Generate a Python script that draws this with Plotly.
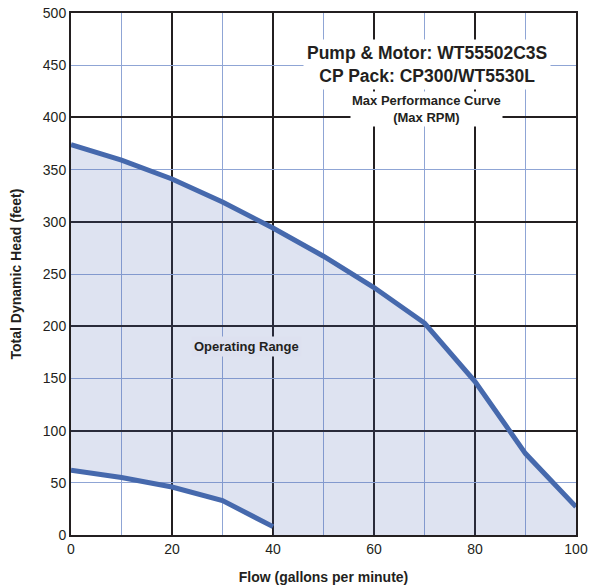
import plotly.graph_objects as go

# Max performance curve (max RPM)
flow_max = [0, 10, 20, 30, 40, 50, 60, 70, 80, 90, 100]
head_max = [374, 359, 341, 319, 294, 267, 237, 203, 147, 78, 27]

# lower limit of operating range
flow_min = [0, 10, 20, 30, 40]
head_min = [62, 55, 46, 33, 8]

# bottom of the shaded region: lower limit, then the x axis out to 100 gpm
base_flow = flow_min + [40, 100]
base_head = head_min + [0, 0]

LINE = '#4669ad'
TEXT = '#231f20'
FONT = 'Liberation Sans, Arial, sans-serif'

fig = go.Figure()

fig.add_trace(go.Scatter(x=base_flow, y=base_head, mode='lines',
                         line=dict(width=0), hoverinfo='skip', showlegend=False))
fig.add_trace(go.Scatter(x=flow_max, y=head_max, mode='lines',
                         fill='tonexty', fillcolor='rgba(70,100,180,0.18)',
                         line=dict(color=LINE, width=5), showlegend=False))
fig.add_trace(go.Scatter(x=flow_min, y=head_min, mode='lines', yaxis='y2',
                         line=dict(color=LINE, width=5), showlegend=False))

fig.add_annotation(x=70.4, y=451, text='<b>Pump & Motor: WT55502C3S<br>CP Pack: CP300/WT5530L</b>',
                   showarrow=False, bgcolor='white', borderpad=3,
                   font=dict(family=FONT, size=17.5, color=TEXT))
fig.add_annotation(x=70.4, y=408, text='<b>Max Performance Curve<br>(Max RPM)</b>',
                   showarrow=False, bgcolor='white', borderpad=1,
                   font=dict(family=FONT, size=13, color=TEXT))
fig.add_annotation(x=34.7, y=181, text='<b>Operating Range</b>',
                   showarrow=False, bgcolor='#dde1f0', borderpad=2,
                   font=dict(family=FONT, size=13, color=TEXT))

fig.update_layout(
    width=589, height=588,
    margin=dict(l=71, r=13, t=13, b=53),
    plot_bgcolor='white', paper_bgcolor='white',
    font=dict(family=FONT, color=TEXT),
    xaxis=dict(range=[0, 100], dtick=20, showgrid=True, gridcolor='#231f20', gridwidth=2,
               minor=dict(dtick=10, showgrid=True, gridcolor='#8fa5d5', gridwidth=1),
               showline=True, linecolor='#231f20', linewidth=2, mirror=True, automargin=False,
               ticks='', tickfont=dict(size=14, color=TEXT), zeroline=False,
               title=dict(text='<b>Flow (gallons per minute)</b>', font=dict(size=14), standoff=16)),
    yaxis=dict(range=[0, 500], dtick=50, showgrid=True, gridcolor='#8fa5d5', gridwidth=1,
               showline=True, linecolor='#231f20', linewidth=2, mirror=True, automargin=False,
               ticks='', tickfont=dict(size=14, color=TEXT), zeroline=False,
               title=dict(text='<b>Total Dynamic Head (feet)</b>', font=dict(size=14), standoff=18)),
    yaxis2=dict(range=[0, 500], dtick=100, overlaying='y', showgrid=True, automargin=False,
                gridcolor='#231f20', gridwidth=2, showticklabels=False, zeroline=False),
)

# drop the default 8px page margin so the figure sits at the window's corner
fig.write_html("out.html", config={'displayModeBar': False},
               post_script="document.body.style.margin='0';document.body.style.overflow='hidden';")
